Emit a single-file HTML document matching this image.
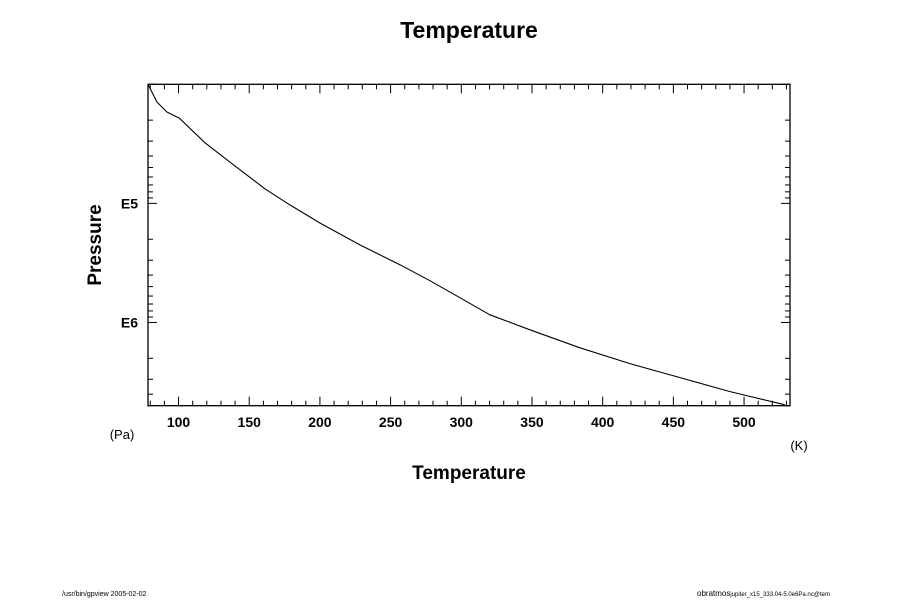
<!DOCTYPE html>
<html><head><meta charset="utf-8"><style>
body{margin:0;background:#fff;width:900px;height:600px;overflow:hidden}
svg{font-family:"Liberation Sans",sans-serif}
</style></head><body>
<svg id="chart" width="900" height="600" viewBox="0 0 900 600">
<text x="469" y="38" text-anchor="middle" font-size="23" font-weight="bold">Temperature</text>
<text x="469" y="479" text-anchor="middle" font-size="19" font-weight="bold">Temperature</text>
<text transform="translate(101,245) rotate(-90)" text-anchor="middle" font-size="19" font-weight="bold">Pressure</text>
<text x="122" y="439" text-anchor="middle" font-size="13">(Pa)</text>
<text x="799" y="450" text-anchor="middle" font-size="13">(K)</text>
<text x="62" y="596" font-size="7">/usr/bin/gpview 2005-02-02</text>
<text x="697" y="596" font-size="8">obratmos<tspan font-size="6">jupiter_x15_333.04-5.0e6Pa.nc@tem</tspan></text>
<g id="axes"></g>
<g id="plot"></g>
</svg>
<script>
const temps=[78.4,84.8,91.8,100.7,118.7,139.9,161.1,178.8,200,228.3,256.6,277.8,299,320,348.3,383.7,419,454.4,489.8,528.7];
const pressures=[1e4,1.41e4,1.71e4,1.93e4,3.1e4,4.84e4,7.55e4,1.03e5,1.46e5,2.23e5,3.27e5,4.46e5,6.19e5,8.6e5,1.15e6,1.63e6,2.21e6,2.9e6,3.8e6,4.9e6];
const xTicks=[100,150,200,250,300,350,400,450,500];
const yTickLabels=["E5","E6"];
const yTickValues=[1e5,1e6];
const L=148,R=790,T=84.3,B=405.7,xMin=78.4,xMax=532.5,yMin=4,yMax=Math.log10(5e6);
const sx=v=>L+(v-xMin)/(xMax-xMin)*(R-L);
const sy=p=>T+(Math.log10(p)-yMin)/(yMax-yMin)*(B-T);
const NS="http://www.w3.org/2000/svg";
const ax=document.getElementById('axes'),pl=document.getElementById('plot');
function mk(tag,at,par){const e=document.createElementNS(NS,tag);for(const k in at)e.setAttribute(k,at[k]);par.appendChild(e);return e;}
const frame=mk('rect',{x:L,y:T,width:R-L,height:B-T,fill:'none',stroke:'#000','stroke-width':1.3},ax);


for(let v=80;v<=530;v+=10){const x=sx(v);const major=v%50===0;const len=major?9:5;
 const t1=mk('line',{x1:x,y1:B,x2:x,y2:B-len,stroke:'#000'},ax);
 
 
 const t2=mk('line',{x1:x,y1:T,x2:x,y2:T+len,stroke:'#000'},ax);
 
 }
xTicks.forEach(v=>{const t=mk('text',{x:sx(v),y:427,'text-anchor':'middle','font-size':14,'font-weight':'bold'},ax);t.textContent=v;
 
 });
for(let e=4;e<=6;e++)for(let m=1;m<=9;m++){const p=m*Math.pow(10,e);if(p<1e4||p>5e6)continue;const y=sy(p);const len=m===1?9:5;
 const a=mk('line',{x1:L,y1:y,x2:L+len,y2:y,stroke:'#000'},ax);
 
 
 const b=mk('line',{x1:R,y1:y,x2:R-len,y2:y,stroke:'#000'},ax);
 
 }
yTickValues.forEach((p,i)=>{const t=mk('text',{x:138,y:sy(p)+5,'text-anchor':'end','font-size':14,'font-weight':'bold'},ax);t.textContent=yTickLabels[i];
 
 });
const d=temps.map((t,i)=>(i?'L':'M')+sx(t).toFixed(1)+','+sy(pressures[i]).toFixed(1)).join(' ');
const line=mk('path',{d:d,fill:'none',stroke:'#000','stroke-width':1.1,'stroke-linejoin':'round'},pl);


</script>
</body></html>
